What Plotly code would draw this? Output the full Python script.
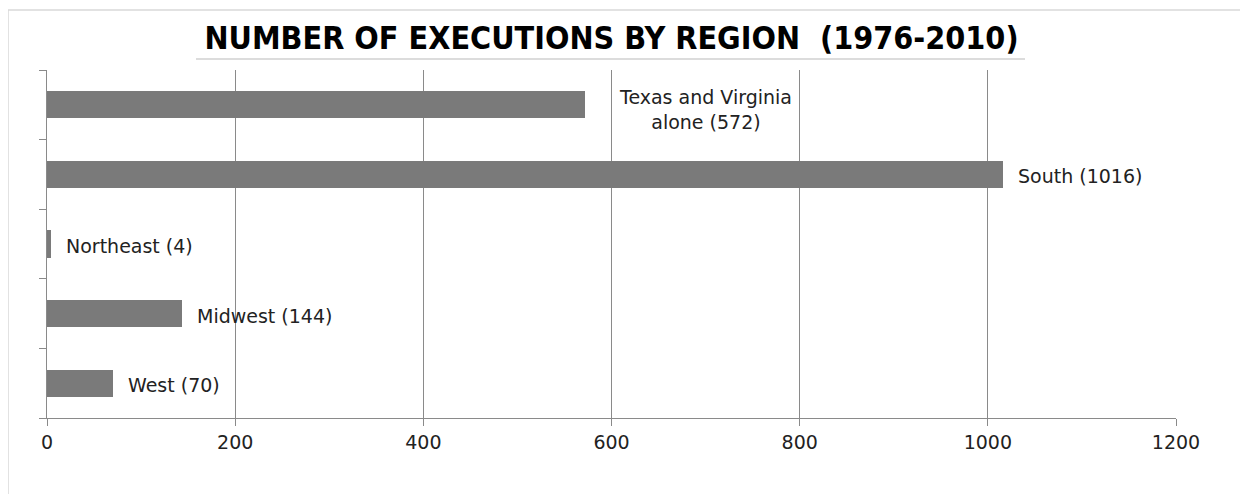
import plotly.graph_objects as go

# Data (top to bottom in the chart)
regions = ["Texas and Virginia", "South", "Northeast", "Midwest", "West"]
executions = [572, 1016, 4, 144, 70]
labels = ["Texas and Virginia<br>alone (572)", "South (1016)", "Northeast (4)", "Midwest (144)", "West (70)"]
x_ticks = [0, 200, 400, 600, 800, 1000, 1200]
title_text = "NUMBER OF EXECUTIONS BY REGION\u00a0\u00a0(1976-2010)"

bar_color = "#7a7a7a"
grid_color = "#8a8a8a"
text_color = "#222222"
label_font = dict(family="DejaVu Sans", size=19, color=text_color)

fig = go.Figure()
fig.add_trace(go.Bar(
    y=regions, x=executions, orientation="h",
    marker=dict(color=bar_color, line=dict(width=0)),
    width=0.39, hoverinfo="skip",
))

for r, v, t in zip(regions, executions, labels):
    multi = "<br>" in t
    fig.add_annotation(
        x=v, y=r, xref="x", yref="y", text=t, showarrow=False,
        xanchor="left", yanchor="middle", align="center" if multi else "left",
        xshift=32 if multi else 13, yshift=-5 if multi else -2,
        font=label_font,
    )

# title underline
fig.add_shape(type="line", xref="paper", yref="paper",
              x0=(196 - 47) / 1129, x1=(1025 - 47) / 1129,
              y0=1 + 11 / 348, y1=1 + 11 / 348,
              line=dict(color="#d0d0d0", width=1.5))
# outer frame
fig.add_shape(type="rect", xref="paper", yref="paper",
              x0=(8 - 47) / 1129, x1=(1260 - 47) / 1129,
              y0=-(520 - 418) / 348, y1=1 + 60 / 348,
              line=dict(color="#d9d9d9", width=1.5), layer="below")

fig.update_layout(
    width=1240, height=486,
    margin=dict(l=39, r=72, t=62, b=76),
    paper_bgcolor="white", plot_bgcolor="white",
    showlegend=False,
    title=dict(text=title_text, x=0.5, xanchor="center", xref="paper",
               y=1 - 30 / 486, yanchor="middle", yref="container",
               font=dict(family="DejaVu Sans Condensed", size=32, color="#000000",
                         weight="bold")),
    xaxis=dict(range=[0, 1200], tickvals=x_ticks, ticktext=[str(v) for v in x_ticks],
               showgrid=True, gridcolor=grid_color, gridwidth=1,
               showline=True, linecolor=grid_color, linewidth=1,
               ticks="outside", ticklen=7, tickcolor=grid_color,
               zeroline=False, tickfont=label_font),
    yaxis=dict(type="category", categoryorder="array", categoryarray=regions[::-1],
               range=[-0.5, 4.5], tickson="boundaries", ticks="outside", ticklen=7,
               tickcolor=grid_color, showticklabels=False, showgrid=False,
               showline=True, linecolor=grid_color, linewidth=1, zeroline=False),
    bargap=0,
)

fig.write_html("out.html")
